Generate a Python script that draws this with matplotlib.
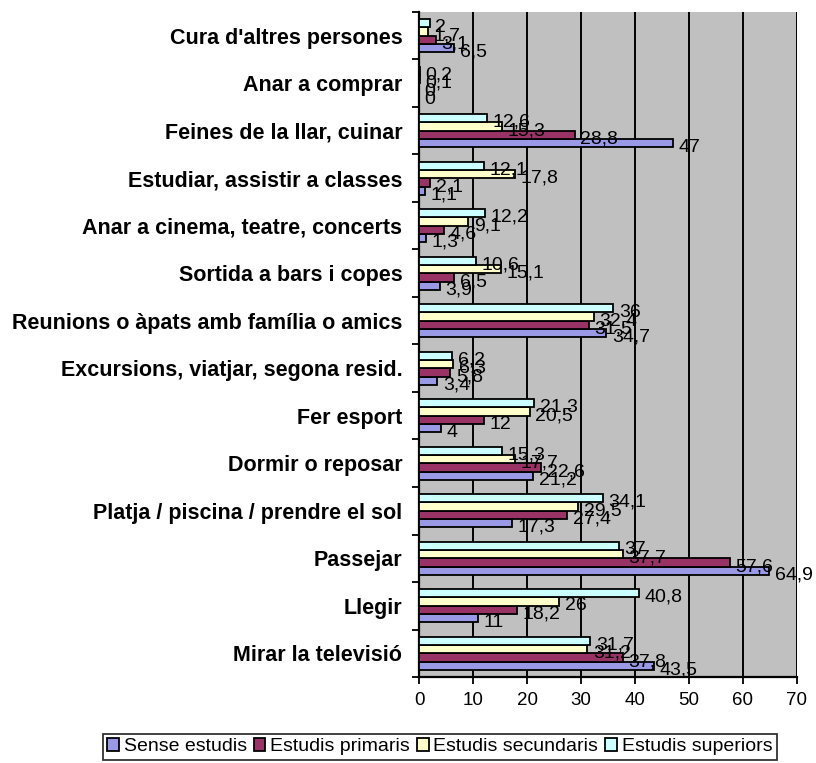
import numpy as np
import matplotlib.pyplot as plt

plt.rcParams['font.family'] = ['Liberation Sans', 'DejaVu Sans']

categories = [
    "Cura d'altres persones",
    "Anar a comprar",
    "Feines de la llar, cuinar",
    "Estudiar, assistir a classes",
    "Anar a cinema, teatre, concerts",
    "Sortida a bars i copes",
    "Reunions o àpats amb família o amics",
    "Excursions, viatjar, segona resid.",
    "Fer esport",
    "Dormir o reposar",
    "Platja / piscina / prendre el sol",
    "Passejar",
    "Llegir",
    "Mirar la televisió",
]

sense = [6.5, 0, 47, 1.1, 1.3, 3.9, 34.7, 3.4, 4, 21.2, 17.3, 64.9, 11, 43.5]
primaris = [3.1, 0, 28.8, 2.1, 4.6, 6.5, 31.5, 5.8, 12, 22.6, 27.4, 57.6, 18.2, 37.8]
secundaris = [1.7, 0.1, 15.3, 17.8, 9.1, 15.1, 32.4, 6.3, 20.5, 17.7, 29.5, 37.7, 26, 31.2]
superiors = [2, 0.2, 12.6, 12.1, 12.2, 10.6, 36, 6.2, 21.3, 15.3, 34.1, 37, 40.8, 31.7]

series = [
    ("Sense estudis", sense, "#9999e6"),
    ("Estudis primaris", primaris, "#993366"),
    ("Estudis secundaris", secundaris, "#ffffcc"),
    ("Estudis superiors", superiors, "#ccffff"),
]


def fmt(v):
    if float(v).is_integer():
        return str(int(v))
    return f"{v:.1f}".replace('.', ',')


fig = plt.figure(figsize=(8.16, 7.63), dpi=100)
ax = fig.add_axes([0.5135, 0.1127, 0.4632, 0.8716])
ax.set_facecolor('#c0c0c0')

n = len(categories)
pos = np.arange(n)[::-1]
h = 0.175
offsets = [-1.5 * h, -0.5 * h, 0.5 * h, 1.5 * h]

# sense estudis at the bottom of each group, superiors on top
for (name, vals, col), off in zip(series, offsets):
    ax.barh(pos + off, vals, height=h, color=col, edgecolor='black',
            linewidth=1.3, label=name, zorder=3)
    for y, v in zip(pos + off, vals):
        ax.annotate(fmt(v), (v, y), xytext=(4, -3), textcoords='offset points',
                    va='center', ha='left', fontsize=14, zorder=4)

ax.set_xlim(0, 70)
ax.set_ylim(-0.5, n - 0.5)
ax.set_xticks(range(0, 71, 10))
ax.tick_params(axis='x', labelsize=13.5, length=5, width=1.3, direction='out', pad=6)
ax.xaxis.grid(True, color='black', linewidth=1.4, zorder=0)
ax.set_axisbelow(True)

ax.set_yticks(np.arange(-0.5, n, 1))
ax.set_yticklabels([])
ax.tick_params(axis='y', which='major', length=5, width=1.3, direction='out')
ax.set_yticks(pos, minor=True)
ax.set_yticklabels(categories, minor=True, fontsize=15.5, fontweight='bold')
ax.tick_params(axis='y', which='minor', length=0, pad=12)

for side in ['top', 'right']:
    ax.spines[side].set_visible(False)
ax.spines['left'].set_linewidth(1.6)
ax.spines['bottom'].set_linewidth(1.6)

handles, labels = ax.get_legend_handles_labels()
leg = fig.legend(handles, labels, loc='center', ncol=4,
                 bbox_to_anchor=(0.539, 0.021), fontsize=14,
                 frameon=True, fancybox=False, edgecolor='black',
                 handlelength=0.6, handleheight=0.6, handletextpad=0.25,
                 columnspacing=0.35, borderpad=0.25)
leg.get_frame().set_linewidth(1.3)

fig.savefig('out.png', dpi=100)
